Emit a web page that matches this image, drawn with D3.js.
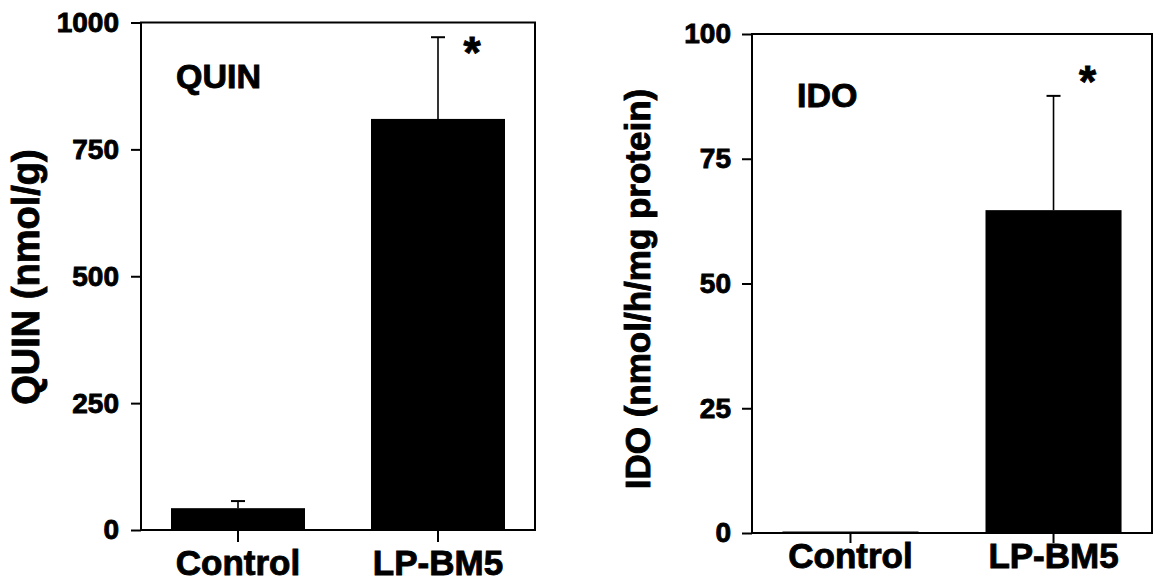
<!DOCTYPE html>
<html>
<head>
<meta charset="utf-8">
<script src="https://cdn.jsdelivr.net/npm/d3@7"></script>
<style>
  body { margin: 0; background: #fff; }
  text { font-family: "Liberation Sans", Arial, sans-serif; font-weight: bold; fill: #000; stroke: #000; stroke-width: 0.9px; }
</style>
</head>
<body>
<svg id="chart" width="1154" height="588"></svg>
<script>
// values
const categories = ["Control", "LP-BM5"];
const quinMean = [43, 810];
const quinSem = [14, 161];
const idoMean = [0.3, 64.7];
const idoSem = [0, 22.9];
const quinTicks = [0, 250, 500, 750, 1000];
const idoTicks = [0, 25, 50, 75, 100];

const svg = d3.select("#chart");

function draw_panel(p) {
  const x = d3.scaleBand()
    .domain(categories)
    .range([p.left, p.right])
    .paddingInner(0.33)
    .paddingOuter(0.15);
  const y = d3.scaleLinear()
    .domain([0, p.max])
    .range([p.bottom, p.top]);
  const g = svg.append("g");
  const cx = i => x(categories[i]) + x.bandwidth() / 2;

  // bars
  g.selectAll("rect.bar")
    .data(p.mean).enter()
    .append("rect")
    .attr("class", "bar")
    .attr("x", (d, i) => x(categories[i]))
    .attr("y", d => y(d))
    .attr("width", x.bandwidth())
    .attr("height", d => y(0) - y(d))
    .attr("fill", "#000");

  // error bars (upper half only)
  const err = p.mean.map((m, i) => ({ i, lo: m, hi: m + p.sem[i] })).filter(d => d.hi > d.lo);
  g.selectAll("line.err")
    .data(err).enter()
    .append("line")
    .attr("x1", d => cx(d.i)).attr("x2", d => cx(d.i))
    .attr("y1", d => y(d.lo)).attr("y2", d => y(d.hi))
    .attr("stroke", "#000").attr("stroke-width", 1.6);
  g.selectAll("line.cap")
    .data(err).enter()
    .append("line")
    .attr("x1", d => cx(d.i) - 7).attr("x2", d => cx(d.i) + 7)
    .attr("y1", d => y(d.hi)).attr("y2", d => y(d.hi))
    .attr("stroke", "#000").attr("stroke-width", 2);

  // frame
  g.append("rect")
    .attr("x", p.left).attr("y", y(p.max))
    .attr("width", p.right - p.left).attr("height", y(0) - y(p.max))
    .attr("fill", "none").attr("stroke", "#000").attr("stroke-width", 2);

  // y axis
  const ya = g.append("g")
    .attr("transform", `translate(${p.left},0)`)
    .call(d3.axisLeft(y).tickValues(p.ticks).tickFormat(d3.format("d")).tickSize(10).tickPadding(p.yPad));
  ya.select(".domain").remove();
  ya.selectAll("line").attr("stroke-width", 2);
  ya.selectAll("text").style("font-size", "28px");

  // x axis
  const xa = g.append("g")
    .attr("transform", `translate(0,${p.bottom})`)
    .call(d3.axisBottom(x).tickSize(p.xTick).tickSizeOuter(0).tickPadding(p.xPad));
  xa.select(".domain").remove();
  xa.selectAll("line").attr("stroke-width", 2);
  xa.selectAll("text").style("font-size", "35px");

  // axis title
  g.append("text")
    .attr("transform", `translate(${p.titleX},${p.titleY}) rotate(-90)`)
    .attr("text-anchor", "middle")
    .style("font-size", p.titleSize + "px")
    .text(p.title);

  // panel label
  g.append("text")
    .attr("x", p.labelX).attr("y", p.labelY)
    .style("font-size", "34px")
    .text(p.label);

  // significance star
  g.append("text")
    .attr("x", cx(1) + 34)
    .attr("y", y(p.star) + 20)
    .attr("text-anchor", "middle")
    .style("font-size", "44px")
    .text("*");
}

draw_panel({
  left: 141, right: 535, top: 22.5, bottom: 530, max: 1000,
  mean: quinMean, sem: quinSem, ticks: quinTicks,
  yPad: 12, xTick: 12, xPad: 8,
  title: "QUIN (nmol/g)", titleX: 39, titleY: 277, titleSize: 38,
  label: "QUIN", labelX: 176, labelY: 88,
  star: 950
});

draw_panel({
  left: 752, right: 1152, top: 34, bottom: 533, max: 100,
  mean: idoMean, sem: idoSem, ticks: idoTicks,
  yPad: 11, xTick: 10, xPad: 0,
  title: "IDO (nmol/h/mg protein)", titleX: 650, titleY: 289, titleSize: 35,
  label: "IDO", labelX: 797, labelY: 107,
  star: 91.4
});
</script>
</body>
</html>
